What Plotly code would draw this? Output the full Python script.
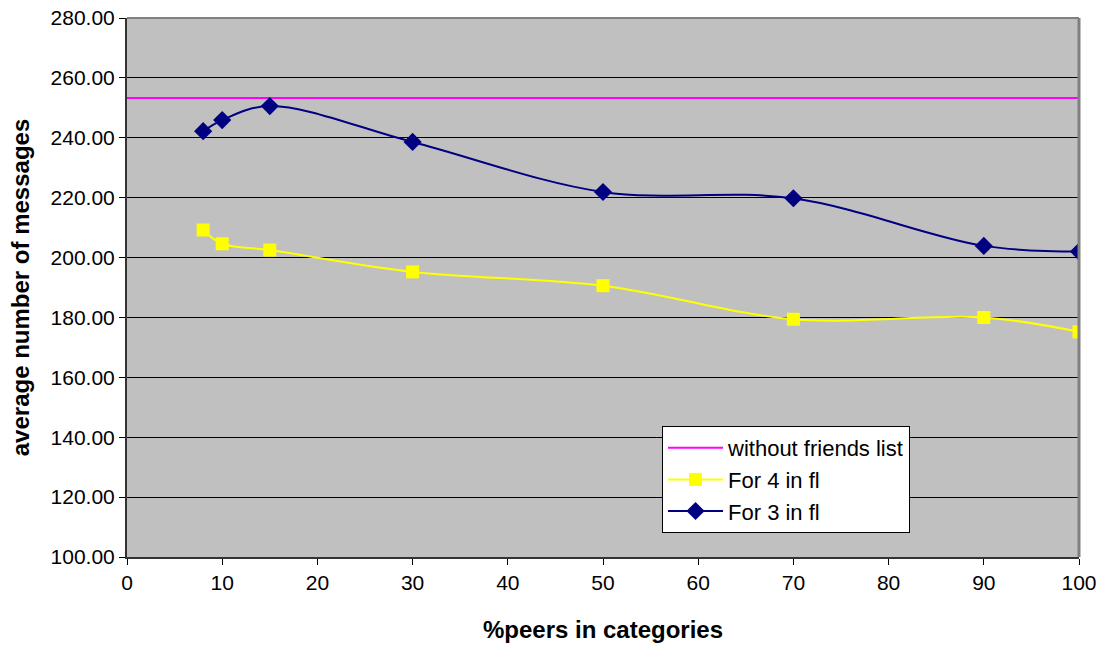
import plotly.graph_objects as go

# % peers in categories
peers_pct = [8, 10, 15, 30, 50, 70, 90, 100]

# average number of messages per configuration
for_3_in_fl = [242.2, 245.9, 250.6, 238.6, 221.9, 219.8, 203.9, 202.0]
for_4_in_fl = [209.2, 204.6, 202.5, 195.2, 190.6, 179.4, 180.0, 175.2]

# baseline without a friends list (constant across the range)
baseline_x = [0, 100]
baseline_y = [253.3, 253.3]

y_ticks = [100, 120, 140, 160, 180, 200, 220, 240, 260, 280]
x_ticks = [0, 10, 20, 30, 40, 50, 60, 70, 80, 90, 100]

fig = go.Figure()

fig.add_trace(go.Scatter(
    x=baseline_x, y=baseline_y, mode="lines",
    name="without friends list",
    line=dict(color="#FF00FF", width=2),
))
fig.add_trace(go.Scatter(
    x=peers_pct, y=for_4_in_fl, mode="lines+markers",
    name="For 4 in fl",
    line=dict(color="#FFFF00", width=2, shape="spline", smoothing=1),
    marker=dict(symbol="square", size=13, color="#FFFF00"),
))
fig.add_trace(go.Scatter(
    x=peers_pct, y=for_3_in_fl, mode="lines+markers",
    name="For 3 in fl",
    line=dict(color="#000080", width=2, shape="spline", smoothing=1),
    marker=dict(symbol="diamond", size=14, color="#000080"),
))

fig.update_layout(
    width=1110, height=645,
    margin=dict(l=127, r=31, t=18, b=88),
    paper_bgcolor="white",
    plot_bgcolor="#C0C0C0",
    font=dict(family="Arial, Liberation Sans, sans-serif", size=21, color="black"),
    showlegend=True,
    legend=dict(
        x=0.562, y=0.243, xanchor="left", yanchor="top",
        bgcolor="white", bordercolor="black", borderwidth=1,
        font=dict(size=22),
        itemwidth=55,
        tracegroupgap=0,
    ),
    shapes=[
        dict(type="line", xref="paper", yref="paper", x0=0, x1=1, y0=1, y1=1,
             line=dict(color="#808080", width=2)),
        dict(type="line", xref="paper", yref="paper", x0=1, x1=1, y0=0, y1=1,
             line=dict(color="#808080", width=3)),
    ],
)

fig.update_xaxes(
    range=[0, 100], tickvals=x_ticks, ticks="outside", ticklen=6,
    tickcolor="black", showgrid=False, zeroline=False, automargin=False,
    showline=True, linecolor="#333333", linewidth=2,
    tickfont=dict(size=21),
    title=dict(text="<b>%peers in categories</b>", font=dict(size=24), standoff=28),
)
fig.update_yaxes(
    range=[100, 280], tickvals=y_ticks, tickformat=".2f", ticks="outside",
    ticklen=6, tickcolor="black", showgrid=True, gridcolor="black", gridwidth=1,
    zeroline=False, automargin=False, showline=True, linecolor="#333333", linewidth=2,
    tickfont=dict(size=21),
    title=dict(text="<b>average number of messages</b>", font=dict(size=24), standoff=14),
)

fig.write_html("out.html")
